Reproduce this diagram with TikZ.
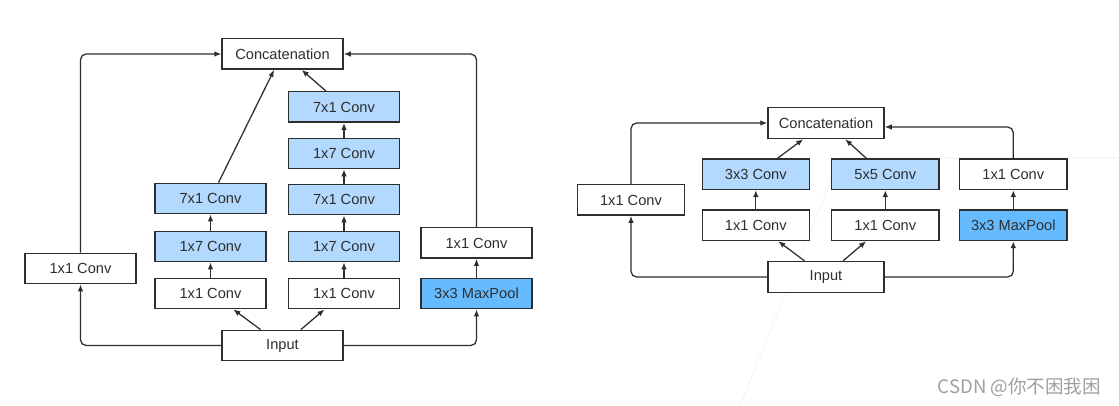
\documentclass[tikz,border=0pt]{standalone}
\usepackage{fontspec}
\setmainfont{Liberation Sans}
\newfontfamily\cjkfont{Noto Sans CJK SC}
\usepackage{tikz}
\usetikzlibrary{arrows}
\usetikzlibrary{arrows.meta}

\definecolor{convblue}{HTML}{B3D9FF}
\definecolor{poolblue}{HTML}{66BBFF}
\definecolor{boxline}{HTML}{2E2E2E}

\tikzset{
    layer/.style={draw=boxline,line width=1pt,fill=white,text=boxline,
        font=\fontsize{10.4}{12}\selectfont,inner sep=0pt,
        minimum width=2.775cm,minimum height=0.76cm},
    wide/.style={layer,minimum width=3.025cm},
    flow/.style={draw=boxline,line width=0.9pt,arrows={-Latex[length=5pt,width=4pt]}}
}

\begin{document}
\begin{tikzpicture}[x=0.025cm,y=-0.025cm]
                \useasboundingbox (0,0) rectangle (1119,406);
                \fill[white] (0,0) rectangle (1119,406);

                % faint page edge behind the right picture
                \draw[gray!12,line width=0.4pt] (740,406) -- (840,158) -- (1119,158);

                % left: inception block with factorised 7x7
                \node[wide] (ConcatL) at (282.5,54) {Concatenation};
                \node[wide] (InputL) at (282.5,345.5) {Input};
                \node[layer] (OneL) at (80.5,268.5) {1x1 Conv};

                \foreach \y/\t/\c [count=\i] in {293.5/1x1 Conv/white,246.5/1x7 Conv/convblue,198.5/7x1 Conv/convblue}{
                    \node[layer,fill=\c] (B\i) at (210.5,\y) {\t};
                }
                \foreach \y/\t/\c [count=\i] in {293.5/1x1 Conv/white,246.5/1x7 Conv/convblue,199.5/7x1 Conv/convblue,153.5/1x7 Conv/convblue,107/7x1 Conv/convblue}{
                    \node[layer,fill=\c] (C\i) at (344,\y) {\t};
                }
                \node[layer,fill=poolblue] (MaxL) at (476.5,293.5) {3x3 MaxPool};
                \node[layer] (PoolOneL) at (476.5,243) {1x1 Conv};

                \foreach \a/\b in {B1/B2,B2/B3,C1/C2,C2/C3,C3/C4,C4/C5,MaxL/PoolOneL}{
                    \draw[flow] (\a) -- (\b);
                }
                \draw[flow] ([xshift=-0.55cm]InputL.north) -- ([xshift=0.57cm]B1.south);
                \draw[flow] ([xshift=0.46cm]InputL.north) -- ([xshift=-0.49cm]C1.south);
                \draw[flow] ([xshift=0.2cm]B3.north) -- ([xshift=-0.21cm]ConcatL.south);
                \draw[flow] ([xshift=-0.45cm]C5.north) -- ([xshift=0.48cm]ConcatL.south);

                \draw[flow,rounded corners=4pt] (InputL.west) -| (OneL.south);
                \draw[flow,rounded corners=4pt] (OneL.north) |- (ConcatL.west);
                \draw[flow,rounded corners=4pt] (InputL.east) -| (MaxL.south);
                \draw[flow,rounded corners=4pt] (PoolOneL.north) |- (ConcatL.east);

                % right: original inception block
                \node[layer,minimum width=2.9cm,minimum height=0.775cm] (ConcatR) at (826,123) {Concatenation};
                \node[layer,minimum width=2.9cm,minimum height=0.775cm] (InputR) at (826,277) {Input};
                \node[layer,minimum width=2.675cm] (OneR) at (631,200) {1x1 Conv};

                \node[layer,minimum width=2.675cm] (D1) at (755.8,225.3) {1x1 Conv};
                \node[layer,minimum width=2.675cm,fill=convblue] (D2) at (755.8,174.3) {3x3 Conv};
                \node[layer,minimum width=2.675cm] (E1) at (885.3,225.3) {1x1 Conv};
                \node[layer,minimum width=2.675cm,fill=convblue] (E2) at (885.3,174.3) {5x5 Conv};
                \node[layer,minimum width=2.675cm,fill=poolblue] (MaxR) at (1013.3,225.3) {3x3 MaxPool};
                \node[layer,minimum width=2.675cm] (PoolOneR) at (1013.3,174.3) {1x1 Conv};

                \foreach \a/\b in {D1/D2,E1/E2,MaxR/PoolOneR}{
                    \draw[flow] (\a) -- (\b);
                }
                \draw[flow] ([xshift=-0.54cm]InputR.north) -- ([xshift=0.56cm]D1.south);
                \draw[flow] ([xshift=0.43cm]InputR.north) -- ([xshift=-0.48cm]E1.south);
                \draw[flow] ([xshift=0.54cm]D2.north) -- ([xshift=-0.57cm]ConcatR.south);
                \draw[flow] ([xshift=-0.47cm]E2.north) -- ([xshift=0.48cm]ConcatR.south);

                \draw[flow,rounded corners=4pt] (InputR.west) -| (OneR.south);
                \draw[flow,rounded corners=4pt] (OneR.north) |- (ConcatR.west);
                \draw[flow,rounded corners=4pt] (InputR.east) -| (MaxR.south);
                \draw[flow,rounded corners=4pt] (PoolOneR.north) |- ([yshift=-0.1cm]ConcatR.east);

                \node[text=gray!75,font=\cjkfont\fontsize{13.2}{15}\selectfont] (Mark) at (1019.5,387) {CSDN @你不困我困};
            \end{tikzpicture}
\end{document}
